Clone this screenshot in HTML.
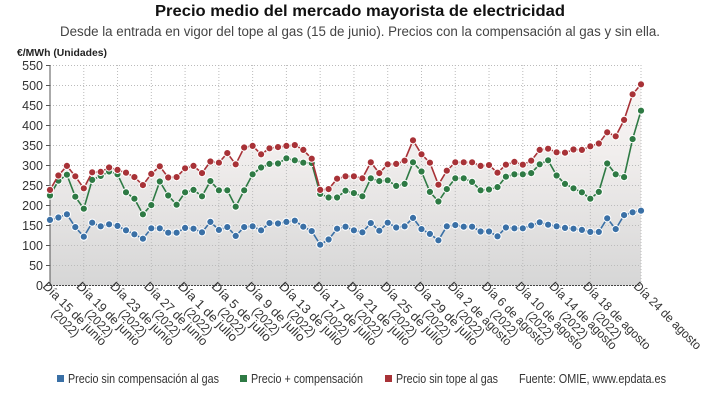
<!DOCTYPE html>
<html><head><meta charset="utf-8"><style>
html,body{margin:0;padding:0;background:#fff;}
svg{display:block;font-family:"Liberation Sans Narrow","Liberation Sans",sans-serif;}
</style></head><body>
<svg id="c" width="720" height="405" viewBox="0 0 720 405" xmlns="http://www.w3.org/2000/svg">
<defs>
<linearGradient id="g" x1="0" y1="65" x2="0" y2="285" gradientUnits="userSpaceOnUse">
<stop offset="0" stop-color="#fbf8f7"/><stop offset="0.4" stop-color="#f1eeed"/><stop offset="1" stop-color="#d6d6d6"/>
</linearGradient>
</defs>
<text x="360" y="16" text-anchor="middle" font-size="16" font-weight="bold" fill="#111" textLength="410" lengthAdjust="spacingAndGlyphs">Precio medio del mercado mayorista de electricidad</text>
<text x="360" y="36" text-anchor="middle" font-size="13.5" fill="#444" textLength="600" lengthAdjust="spacingAndGlyphs">Desde la entrada en vigor del tope al gas (15 de junio). Precios con la compensación al gas y sin ella.</text>
<text x="17" y="56" font-size="10.5" font-weight="bold" fill="#222" textLength="90" lengthAdjust="spacingAndGlyphs">€/MWh (Unidades)</text>
<g id="grid"></g>
<g id="plot"></g>
<g id="xl" font-size="12.5" fill="#333"></g>
<g font-size="12.5" fill="#333">
<rect x="57" y="375" width="7" height="7" fill="#3a70a6"/><text x="68" y="383" textLength="151" lengthAdjust="spacingAndGlyphs">Precio sin compensación al gas</text>
<rect x="240" y="375" width="7" height="7" fill="#2e7a44"/><text x="251" y="383" textLength="112" lengthAdjust="spacingAndGlyphs">Precio + compensación</text>
<rect x="385" y="375" width="7" height="7" fill="#a83237"/><text x="396" y="383" textLength="102" lengthAdjust="spacingAndGlyphs">Precio sin tope al gas</text>
<text x="519" y="383" textLength="147" lengthAdjust="spacingAndGlyphs">Fuente: OMIE, www.epdata.es</text>
</g>
</svg>
<script>
var red=[239,275,299,273,243,283,284,295,289,282,271,251,279,298,270,271,293,299,281,310,307,331,303,345,349,328,343,346,349,351,339,317,239,241,267,273,273,268,308,281,303,304,312,363,328,307,252,287,308,308,308,299,301,282,302,309,302,312,339,342,333,332,340,339,348,355,383,373,414,478,503];
var green=[225,262,277,222,192,264,274,285,278,233,217,178,201,260,225,202,233,239,223,261,238,238,197,238,278,295,304,305,318,313,307,306,229,220,220,237,231,223,268,261,263,249,254,308,285,234,210,241,268,268,259,238,240,246,272,278,278,281,303,313,275,254,243,233,217,234,305,278,271,366,437];
var blue=[164,170,178,146,122,157,148,153,149,138,128,117,143,143,132,132,144,142,133,159,139,146,124,146,148,138,156,155,159,162,147,136,102,115,142,147,138,133,156,137,157,145,148,169,141,129,113,148,151,147,147,135,135,123,145,143,143,150,158,152,148,144,142,139,134,134,168,141,176,183,187];
var NS="http://www.w3.org/2000/svg";
function X(i){return 50+i*591/70;}function Y(v){return 285.5-0.4*v;}
function el(t,a,p,txt){var e=document.createElementNS(NS,t);for(var k in a)e.setAttribute(k,a[k]);if(txt!==undefined)e.textContent=txt;p.appendChild(e);return e;}
var grid=document.getElementById('grid'),plot=document.getElementById('plot'),xl=document.getElementById('xl');
var d="M"+X(0)+","+Y(0);for(var i=0;i<71;i++)d+=" L"+X(i).toFixed(1)+","+Y(red[i]).toFixed(1);d+=" L"+X(70)+","+Y(0)+"Z";
el('path',{d:d,fill:'url(#g)'},grid);
for(var v=0;v<=550;v+=50){var y=Y(v);
 if(v>0)el('line',{x1:50,x2:641,y1:y,y2:y,stroke:'#bbb','stroke-width':1,'stroke-dasharray':'1,2'},grid);
 el('text',{x:43,y:y+4.5,'text-anchor':'end','font-size':12.5,fill:'#333'},grid,String(v));
 el('line',{x1:46,x2:50,y1:y,y2:y,stroke:'#555'},grid);}
var labs=["Día 15 de junio","Día 19 de junio","Día 23 de junio","Día 27 de junio","Día 1 de julio","Día 5 de julio","Día 9 de julio","Día 13 de julio","Día 17 de julio","Día 21 de julio","Día 25 de julio","Día 29 de julio","Día 2 de agosto","Día 6 de agosto","Día 10 de agosto","Día 14 de agosto","Día 18 de agosto"];
var cw=5.6;
for(var k=0;k<=17;k++){var idx=k<17?k*4:70;var x=X(idx);
 el('line',{x1:x,x2:x,y1:65,y2:285,stroke:'#bbb','stroke-width':1,'stroke-dasharray':'1,2'},grid);
 var g=el('g',{transform:'translate('+(x-8)+',287) rotate(45)'},xl);
 var s=k<17?labs[k]:"Día 24 de agosto";var L=s.length*cw;
 el('text',{x:0,y:0,textLength:L.toFixed(1),lengthAdjust:'spacingAndGlyphs'},g,s);
 if(k<17){var L2=6*cw;el('text',{x:((L-L2)/2).toFixed(1),y:13,textLength:L2.toFixed(1),lengthAdjust:'spacingAndGlyphs'},g,"(2022)");}
}
el('line',{x1:50,x2:50,y1:65,y2:286,stroke:'#555'},grid);
el('line',{x1:50,x2:641,y1:285.5,y2:285.5,stroke:'#444','stroke-dasharray':'2,1'},grid);
function series(a,c){var p="";for(var i=0;i<71;i++)p+=(i?" L":"M")+X(i).toFixed(1)+","+Y(a[i]).toFixed(1);
 el('path',{d:p,fill:'none',stroke:c,'stroke-width':1.6},plot);
 for(var i=0;i<71;i++)el('circle',{cx:X(i).toFixed(1),cy:Y(a[i]).toFixed(1),r:3.6,fill:c,stroke:'#fff','stroke-width':1},plot);}
series(blue,'#3a70a6');series(green,'#2e7a44');series(red,'#a83237');
</script>
</body></html>
